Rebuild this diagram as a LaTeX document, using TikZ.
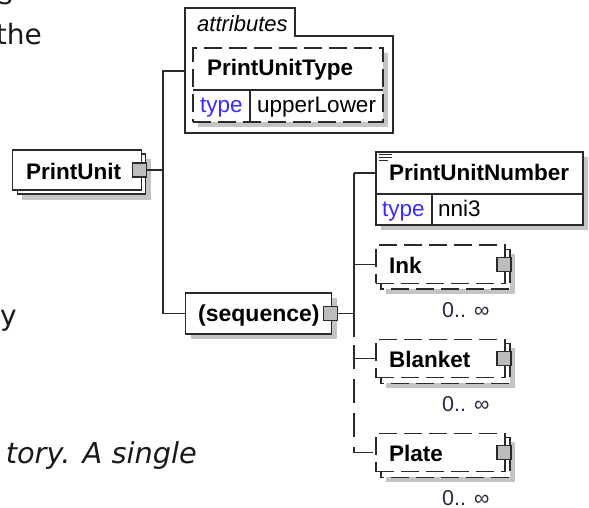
\documentclass[tikz,border=0pt]{standalone}
\usepackage{fontspec}
\setmainfont{Liberation Sans}
\newfontfamily\verd{DejaVu Sans}
\definecolor{lnc}{HTML}{2A2A2A}
\definecolor{shdc}{HTML}{C4C4C4}
\definecolor{btnc}{HTML}{BDBDBD}
\definecolor{typec}{HTML}{3A2CFF}
\definecolor{occc}{HTML}{2A2A40}
\newcommand\optel[3]{%
  \fill[shd] (386,#2+9) rectangle (515,#2+49);
  \draw[box,dsh] (381,#2+4.3) rectangle (510,#2+44);
  \node[box,dsh,minimum width=129pt,minimum height=38.3pt,anchor=north west] (#1) at (376,#2) {};
  \node[nm] (#1txt) at (389,#2+28.3) {#3};
  \node[btn] (#1btn) at (504,#2+19.2) {};
  \node[occ] (#1occ) at (442,#2+72.6) {0.. ∞};
}
\begin{document}
\begin{tikzpicture}[x=1pt,y=-1pt,
  ln/.style={draw=lnc,line width=1.25pt},
  dsh/.style={dash pattern=on 18pt off 7pt},
  shd/.style={fill=shdc},
  box/.style={ln,fill=white,inner sep=0pt,outer sep=0pt},
  btn/.style={draw=lnc,line width=1.1pt,fill=btnc,minimum size=14pt,inner sep=0pt,outer sep=0pt},
  nm/.style={font=\fontsize{22.5}{27}\selectfont\bfseries,anchor=base west,inner sep=0pt},
  tx/.style={font=\fontsize{22.5}{27}\selectfont,anchor=base west,inner sep=0pt},
  ty/.style={tx,text=typec},
  occ/.style={font=\fontsize{21.5}{26}\selectfont,anchor=base west,inner sep=0pt,text=occc},
  lt/.style={font=\verd\fontsize{28}{34}\selectfont,anchor=base east,inner sep=0pt,text=black!90}]
\useasboundingbox[fill=white] (0,0) rectangle (589,508);

% fragments of the surrounding text
\node[lt] (ls) at (13,5) {s};
\node[lt] (lthe) at (42,45) {the};
\node[lt] (ly) at (17,325) {y};
\node[lt,font=\verd\itshape\fontsize{28.8}{34}\selectfont] (ltory) at (197,463) {tory. A single};

% attributes frame
\draw[ln] (185,133) -- (185,8) -- (295,8) -- (295,36) -- (393,36) -- (393,133) -- cycle;
\node[tx,font=\fontsize{22}{26}\selectfont\itshape] (attrlbl) at (197,31.5) {attributes};
\coordinate (attrW) at (185,71);
\fill[shd] (198,53) rectangle (388,127);
\node[box,dsh,minimum width=190pt,minimum height=74pt,anchor=north west] (put) at (193,48) {};
\draw[ln] (193,90) -- (383,90);
\draw[ln] (250,90) -- (250,122);
\node[nm] (puttxt) at (207,76) {PrintUnitType};
\node[ty] (putty) at (200,113) {type};
\node[tx] (putval) at (257,113) {upperLower};

% PrintUnit
\fill[shd] (22,159) rectangle (151,199.5);
\draw[box] (17.3,154) rectangle (145.7,194);
\node[box,minimum width=129pt,minimum height=40pt,anchor=north west] (pu) at (12.7,150) {};
\node[nm] (putext) at (26,179) {PrintUnit};
\node[btn] (pubtn) at (139.5,170) {};
\coordinate (j1) at (163,170);
\draw[ln] (pubtn.east) -- (j1);

% sequence
\fill[shd] (191,298) rectangle (337,339);
\node[box,minimum width=146pt,minimum height=41pt,anchor=north west] (seq) at (185.7,293) {};
\node[nm,font=\fontsize{23}{27}\selectfont\bfseries] (seqtxt) at (198,321.5) {(sequence)};
\node[btn] (seqbtn) at (330.5,313.5) {};
\coordinate (bus) at (354,313.5);
\draw[ln] (seqbtn.east) -- (bus);

% left tree
\draw[ln] (attrW) -- (attrW -| j1) -- (seq.west -| j1) -- (seq.west);

% PrintUnitNumber
\fill[shd] (381,157) rectangle (588,230);
\node[box,minimum width=207pt,minimum height=42pt,anchor=north west] (punT) at (376,152) {};
\node[box,minimum width=207pt,minimum height=31pt,anchor=north west] (punB) at (376,194) {};
\draw[ln] (432,194) -- (432,225);
\draw[lnc,line width=0.9pt] (379,154.5) -- (392,154.5) (379,157.3) -- (392,157.3) (379,160.1) -- (388,160.1);
\node[nm] (puntxt) at (389,180.5) {PrintUnitNumber};
\node[ty] (punty) at (382,216.5) {type};
\node[tx] (punval) at (438,216.5) {nni3};

% optional repeated children
\optel{ink}{245}{Ink}
\optel{blanket}{339.3}{Blanket}
\optel{plate}{433.3}{Plate}

% right tree
\draw[ln] (bus |- punT.west) -- (354,337);
\draw[ln,dash pattern=on 24pt off 10pt] (354,345) -- (bus |- plate.west) -- (plate.west);
\draw[ln] (bus |- punT.west) -- (punT.west);
\draw[ln] (bus |- ink.west) -- (ink.west);
\draw[ln] (bus |- blanket.west) -- (blanket.west);
\end{tikzpicture}
\end{document}
